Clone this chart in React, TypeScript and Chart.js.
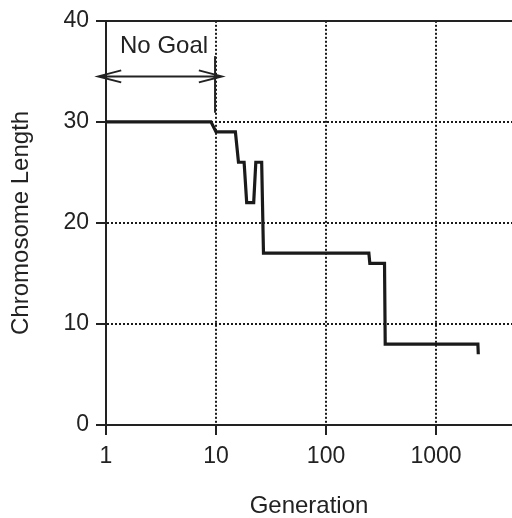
import React, { useEffect, useRef } from "react";
import { Chart, registerables } from "chart.js";

Chart.register(...registerables);

// ---- data ----
const generations = [1, 9, 10, 15, 16, 18, 19, 22, 23, 26, 27, 245, 250, 340, 345, 2400, 2420];
const lengths = [30, 30, 29, 29, 26, 26, 22, 22, 26, 26, 17, 17, 16, 16, 8, 8, 7];
const xTickValues = [1, 10, 100, 1000];
const yTickValues = [0, 10, 20, 30, 40];
const xMin = 1;
const xMax = 4900;
const yMin = 0;
const yMax = 40;
const xTitle = "Generation";
const yTitle = "Chromosome Length";

// annotation ("No Goal" region), in data units
const annotationLabel = "No Goal";
const labelAt = [3.37, 37.5];
const arrowSpan = [0.85, 11.3];
const arrowLevel = 34.5;
const markerGen = 9.8;
const markerSpan = [30.9, 36.5];

const FONT = "'Liberation Sans', Arial, Helvetica, sans-serif";
const INK = "#222";

const annotationPlugin = {
  id: "noGoal",
  afterDatasetsDraw(chart: any) {
    const xs = chart.scales.x;
    const ys = chart.scales.y;
    const ctx = chart.ctx;
    ctx.save();
    ctx.strokeStyle = INK;
    ctx.fillStyle = INK;
    ctx.lineWidth = 2;
    // horizontal arrow
    const x1 = xs.getPixelForValue(arrowSpan[0]);
    const x2 = xs.getPixelForValue(arrowSpan[1]);
    const ay = ys.getPixelForValue(arrowLevel);
    ctx.beginPath();
    ctx.moveTo(x1, ay);
    ctx.lineTo(x2, ay);
    // left head
    ctx.moveTo(x1 + 23, ay - 6);
    ctx.lineTo(x1, ay);
    ctx.lineTo(x1 + 23, ay + 6);
    // right head
    ctx.moveTo(x2 - 23, ay - 6);
    ctx.lineTo(x2, ay);
    ctx.lineTo(x2 - 23, ay + 6);
    ctx.stroke();
    // vertical marker
    const mx = xs.getPixelForValue(markerGen);
    ctx.beginPath();
    ctx.moveTo(mx, ys.getPixelForValue(markerSpan[1]));
    ctx.lineTo(mx, ys.getPixelForValue(markerSpan[0]));
    ctx.stroke();
    // label
    ctx.font = `24px ${FONT}`;
    ctx.textAlign = "center";
    ctx.textBaseline = "middle";
    ctx.fillText(annotationLabel, xs.getPixelForValue(labelAt[0]), ys.getPixelForValue(labelAt[1]));
    ctx.restore();
  },
};

export default function App() {
  const ref = useRef<HTMLCanvasElement | null>(null);
  useEffect(() => {
    if (!ref.current) return;
    const points = generations.map((g, i) => ({ x: g, y: lengths[i] }));
    const chart = new Chart(ref.current, {
      type: "line",
      data: {
        datasets: [
          {
            data: points,
            borderColor: "#1a1a1a",
            borderWidth: 3.2,
            pointRadius: 0,
            tension: 0,
            borderJoinStyle: "miter",
            fill: false,
          },
        ],
      },
      options: {
        responsive: false,
        animation: false,
        layout: { padding: { top: 17, left: 0, right: 0, bottom: 0 } },
        plugins: { legend: { display: false }, tooltip: { enabled: false } },
        scales: {
          x: {
            type: "logarithmic",
            position: "bottom",
            min: xMin,
            max: xMax,
            afterBuildTicks: (s: any) => {
              s.ticks = xTickValues.map((v) => ({ value: v }));
            },
            afterFit: (s: any) => {
              s.height = 93;
            },
            ticks: {
              color: INK,
              font: { family: FONT, size: 23 },
              padding: 8,
              autoSkip: false,
              maxRotation: 0,
              callback: (v: any) => String(v),
            },
            grid: {
              color: (c: any) => (c.tick && c.tick.value === xMin ? "rgba(0,0,0,0)" : "#1a1a1a"),
              lineWidth: 2,
              tickLength: 10,
              tickColor: INK,
              tickWidth: 2,
            },
            border: { display: true, color: INK, width: 2, dash: [2, 2] },
            title: {
              display: true,
              text: xTitle,
              color: INK,
              font: { family: FONT, size: 24, lineHeight: 1 },
              padding: { top: 0, bottom: 0 },
            },
          },
          xTop: {
            type: "logarithmic",
            position: "top",
            min: xMin,
            max: xMax,
            afterFit: (s: any) => {
              s.height = 0;
            },
            ticks: { display: false },
            grid: { display: false, drawTicks: false },
            border: { display: true, color: INK, width: 2 },
          },
          y: {
            type: "linear",
            position: "left",
            min: yMin,
            max: yMax,
            afterBuildTicks: (s: any) => {
              s.ticks = yTickValues.map((v) => ({ value: v }));
            },
            afterFit: (s: any) => {
              s.width = 106;
            },
            ticks: {
              color: INK,
              font: { family: FONT, size: 23 },
              padding: 7,
              callback: (v: any) => String(v),
            },
            grid: {
              color: (c: any) =>
                c.tick && (c.tick.value === yMin || c.tick.value === yMax) ? "rgba(0,0,0,0)" : "#1a1a1a",
              lineWidth: 2,
              tickLength: 10,
              tickColor: INK,
              tickWidth: 2,
            },
            border: { display: true, color: INK, width: 2, dash: [2, 2] },
            title: {
              display: true,
              text: yTitle,
              color: INK,
              font: { family: FONT, size: 24, lineHeight: 1 },
              padding: { top: 9, bottom: 0 },
            },
          },
        },
      } as any,
      plugins: [annotationPlugin],
    });
    return () => chart.destroy();
  }, []);
  return (
    <canvas
      ref={ref}
      width={512}
      height={518}
      style={{ position: "fixed", left: 0, top: 0, width: 512, height: 518 }}
    />
  );
}
